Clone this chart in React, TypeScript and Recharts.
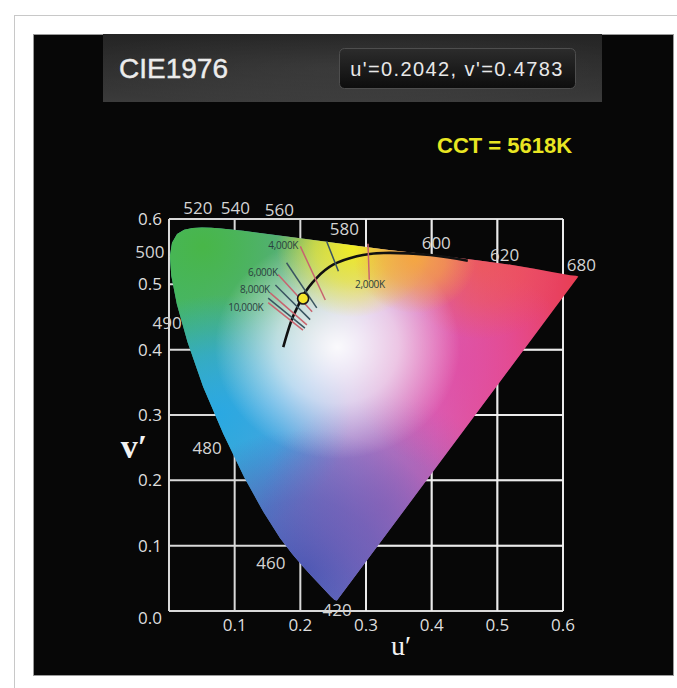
import React from "react";
import { ScatterChart, Scatter, XAxis, YAxis, ReferenceLine } from "recharts";

// spectral locus in u'v': 505nm up over the top to 700nm,
// the purple line back to 400nm, then up the blue/cyan side to 500nm
const locusNm = [505, 510, 515, 520, 525, 530, 535, 540, 550, 560, 570, 580, 590, 600, 610, 620, 630, 640, 650, 660, 680, 700, 400, 420, 430, 440, 450, 455, 460, 465, 470, 475, 480, 485, 490, 495, 500];
const locusU = [0.0014, 0.0046, 0.0123, 0.0231, 0.036, 0.0501, 0.0643, 0.0792, 0.1127, 0.1531, 0.2026, 0.2623, 0.3315, 0.4035, 0.4692, 0.5203, 0.5565, 0.583, 0.6005, 0.6109, 0.6199, 0.6234, 0.2557, 0.2522, 0.2461, 0.2347, 0.2161, 0.2033, 0.1877, 0.169, 0.1441, 0.1147, 0.0828, 0.0521, 0.0282, 0.0119, 0.0035];
const locusV = [0.5432, 0.5638, 0.577, 0.5837, 0.5861, 0.5868, 0.5865, 0.5856, 0.5821, 0.5766, 0.57, 0.562, 0.553, 0.545, 0.537, 0.53, 0.524, 0.519, 0.516, 0.514, 0.513, 0.512, 0.0159, 0.0169, 0.0226, 0.035, 0.0549, 0.0688, 0.0871, 0.1119, 0.151, 0.2044, 0.2708, 0.3427, 0.4117, 0.4698, 0.5131];

// black-body (Planckian) curve
const planckU = [0.174, 0.181, 0.189, 0.196, 0.203, 0.213, 0.225, 0.25, 0.286, 0.327, 0.398, 0.455];
const planckV = [0.404, 0.428, 0.451, 0.466, 0.481, 0.496, 0.51, 0.53, 0.543, 0.548, 0.545, 0.536];

// short isotherm strokes across the curve (start / end)
const isoU1 = [0.303, 0.24, 0.2, 0.179, 0.166, 0.162, 0.154, 0.151, 0.151];
const isoV1 = [0.562, 0.566, 0.558, 0.533, 0.515, 0.499, 0.487, 0.479, 0.472];
const isoU2 = [0.305, 0.258, 0.238, 0.225, 0.218, 0.215, 0.21, 0.207, 0.204];
const isoV2 = [0.507, 0.52, 0.476, 0.464, 0.458, 0.446, 0.438, 0.433, 0.43];

const wavelengthLabels = ["520", "540", "560", "580", "600", "620", "680", "500", "490", "480", "460", "420"];
const wavelengthU = [0.044, 0.101, 0.168, 0.267, 0.407, 0.511, 0.628, -0.029, -0.003, 0.058, 0.155, 0.256];
const wavelengthV = [0.617, 0.617, 0.614, 0.585, 0.564, 0.545, 0.53, 0.551, 0.441, 0.25, 0.075, 0.002];

const cctLabels = ["4,000K", "6,000K", "8,000K", "10,000K", "2,000K"];
const cctU = [0.174, 0.143, 0.131, 0.117, 0.306];
const cctV = [0.56, 0.519, 0.493, 0.466, 0.501];

const measuredU = 0.2042;
const measuredV = 0.4783;
const measuredCct = 5618;

const gridTicks = [0, 0.1, 0.2, 0.3, 0.4, 0.5, 0.6];
const tickLabels = ["0.0", "0.1", "0.2", "0.3", "0.4", "0.5", "0.6"];

const SANS = "'Open Sans', 'DejaVu Sans', sans-serif";
const HEAD = "'Liberation Sans', Arial, sans-serif";
const SERIF = "'Liberation Serif', 'DejaVu Serif', serif";

// soft colour washes layered inside the horseshoe (bounding-box units)
const blobs = [
  { id: "gGreen", cx: 0.08, cy: 0.05, r: 0.45, color: "#48b648", o: 1 },
  { id: "gCyan", cx: 0.12, cy: 0.5, r: 0.32, color: "#28a8e4", o: 0.95 },
  { id: "gBlue", cx: 0.33, cy: 0.92, r: 0.38, color: "#4858b4", o: 1 },
  { id: "gViolet", cx: 0.52, cy: 0.75, r: 0.3, color: "#7e5cb4", o: 0.6 },
  { id: "gMagenta", cx: 0.72, cy: 0.38, r: 0.28, color: "#e04ca6", o: 0.7 },
  { id: "gRed", cx: 0.76, cy: 0.1, r: 0.2, color: "#f05a4a", o: 0.7 },
  { id: "gWhite", cx: 0.41, cy: 0.32, r: 0.3, color: "#ffffff", o: 0.95 },
  { id: "gYellow", cx: 0.45, cy: 0.05, r: 0.19, color: "#f2ee22", o: 1 },
  { id: "gOrange", cx: 0.6, cy: 0.08, r: 0.15, color: "#f6a83e", o: 0.95 },
];

const NoDot = () => <g />;

function GamutFill(props: any) {
  const pts = props.points || [];
  if (!pts.length) return <g />;
  const d = pts.map((p: any, i: number) => `${i ? "L" : "M"}${p.x},${p.y}`).join(" ") + " Z";
  return (
    <g>
      <defs>
        <linearGradient id="gBase" x1="0" y1="0" x2="1" y2="0">
          <stop offset="0" stopColor="#3fb6a8" />
          <stop offset="0.25" stopColor="#6aa0d8" />
          <stop offset="0.45" stopColor="#b08ad0" />
          <stop offset="0.65" stopColor="#d866b8" />
          <stop offset="0.85" stopColor="#e8487a" />
          <stop offset="1" stopColor="#e83e52" />
        </linearGradient>
        {blobs.map((b) => (
          <radialGradient key={b.id} id={b.id} cx={b.cx} cy={b.cy} r={b.r}>
            <stop offset="0" stopColor={b.color} stopOpacity={b.o} />
            <stop offset="0.5" stopColor={b.color} stopOpacity={b.o * 0.65} />
            <stop offset="1" stopColor={b.color} stopOpacity={0} />
          </radialGradient>
        ))}
      </defs>
      <path d={d} fill="url(#gBase)" />
      {blobs.map((b) => (
        <path key={b.id} d={d} fill={`url(#${b.id})`} />
      ))}
    </g>
  );
}

const WaveLabel = (p: any) => (
  <text x={p.cx} y={p.cy} textAnchor="middle" dominantBaseline="central" fill="#d4d4d4" fontSize={17} fontFamily={SANS}>
    {p.payload.name}
  </text>
);

const CctLabel = (p: any) => (
  <text x={p.cx} y={p.cy} textAnchor="middle" dominantBaseline="central" fill="#2a403e" fontSize={10} letterSpacing={-0.3} fontFamily={SANS}>
    {p.payload.name}
  </text>
);

const MeasuredDot = (p: any) => (
  <circle cx={p.cx} cy={p.cy} r={5.5} fill="#f4e52a" stroke="#1a1a1a" strokeWidth={1.6} />
);

export default function App() {
  const locus = locusU.map((u, i) => ({ u, v: locusV[i], nm: locusNm[i] }));
  const planck = planckU.map((u, i) => ({ u, v: planckV[i] }));
  const waves = wavelengthLabels.map((name, i) => ({ name, u: wavelengthU[i], v: wavelengthV[i] }));
  const ccts = cctLabels.map((name, i) => ({ name, u: cctU[i], v: cctV[i] }));
  const tickLabelStyle = { fill: "#dedede", fontSize: 17, fontFamily: SANS };

  return (
    <div style={{ position: "fixed", left: 0, top: 0, width: 677, height: 688, overflow: "hidden", background: "#fff" }}>
      <svg width={677} height={688} style={{ position: "absolute", left: 0, top: 0 }}>
        <defs>
          <linearGradient id="head" x1="0" y1="0" x2="0" y2="1">
            <stop offset="0" stopColor="#252525" />
            <stop offset="0.6" stopColor="#303030" />
            <stop offset="1" stopColor="#3b3b3b" />
          </linearGradient>
          <radialGradient id="headGlow" cx="0.5" cy="0.5" r="0.6">
            <stop offset="0" stopColor="#ffffff" stopOpacity={0.06} />
            <stop offset="1" stopColor="#ffffff" stopOpacity={0} />
          </radialGradient>
          <linearGradient id="btn" x1="0" y1="0" x2="0" y2="1">
            <stop offset="0" stopColor="#2c2c2c" />
            <stop offset="1" stopColor="#0d0d0d" />
          </linearGradient>
        </defs>
        <rect x={14.5} y={15.5} width={700} height={700} fill="#fff" stroke="#c8c8c8" />
        <rect x={33.5} y={34.5} width={640} height={641} fill="#070707" stroke="#9a9a9a" />
        <rect x={103} y={34} width={499} height={68} fill="url(#head)" />
        <rect x={103} y={34} width={499} height={68} fill="url(#headGlow)" />
        <text x={119} y={78} fill="#ececec" stroke="#ececec" strokeWidth={0.4} fontSize={28} fontFamily={HEAD}>
          CIE1976
        </text>
        <rect x={339.5} y={48.5} width={236} height={40} rx={5} fill="url(#btn)" stroke="#4e4e4e" />
        <text x={457} y={76} textAnchor="middle" fill="#e8e8e8" fontSize={20} letterSpacing={1.4} fontFamily={HEAD}>
          {`u'=${measuredU.toFixed(4)}, v'=${measuredV.toFixed(4)}`}
        </text>
        <text x={437} y={153} fill="#e9e622" fontSize={22} fontWeight="bold" fontFamily={HEAD}>
          {`CCT = ${measuredCct}K`}
        </text>
        <text x={134} y={446} textAnchor="middle" dominantBaseline="central" fill="#f2f2f2" fontSize={34} fontWeight="bold" fontFamily={SERIF}>
          v′
        </text>
        <text x={401} y={645} textAnchor="middle" dominantBaseline="central" fill="#f2f2f2" fontSize={28} fontFamily={SERIF}>
          u′
        </text>
      </svg>
      <div style={{ position: "absolute", left: 0, top: 0 }}>
        <ScatterChart
          width={677}
          height={688}
          margin={{ top: 186.333, right: 48.333, bottom: 44.333, left: 103.333 }}
        >
          <XAxis type="number" dataKey="u" domain={[-0.1, 0.7]} hide />
          <YAxis type="number" dataKey="v" domain={[-0.05, 0.65]} hide />

          {gridTicks.map((t, i) => (
            <ReferenceLine
              key={"gx" + i}
              segment={[{ x: t, y: 0 }, { x: t, y: 0.6 }]}
              stroke="#d9d9d9"
              strokeWidth={2}
              label={i === 0 ? undefined : { value: tickLabels[i], position: "bottom", offset: 8, ...tickLabelStyle }}
            />
          ))}
          {gridTicks.map((t, i) => (
            <ReferenceLine
              key={"gy" + i}
              segment={[{ x: 0, y: t }, { x: 0.6, y: t }]}
              stroke="#d9d9d9"
              strokeWidth={2}
              label={{ value: tickLabels[i], position: "left", offset: 7, dy: i === 0 ? 7 : 0, ...tickLabelStyle }}
            />
          ))}

          <Scatter data={locus} shape={NoDot} line={GamutFill} isAnimationActive={false} />

          {gridTicks.filter((t) => t >= 0.3).map((t) => (
            <ReferenceLine key={"ox" + t} segment={[{ x: t, y: 0 }, { x: t, y: 0.6 }]} stroke="#ffffff" strokeOpacity={0.45} strokeWidth={2} />
          ))}
          {gridTicks.filter((t) => t > 0 && t < 0.6).map((t) => (
            <ReferenceLine key={"oy" + t} segment={[{ x: 0.28, y: t }, { x: 0.6, y: t }]} stroke="#ffffff" strokeOpacity={0.45} strokeWidth={2} />
          ))}

          <Scatter
            data={planck}
            shape={NoDot}
            line={{ stroke: "#111111", strokeWidth: 2.6 }}
            lineJointType="natural"
            isAnimationActive={false}
          />

          {isoU1.map((u, i) => (
            <Scatter
              key={"iso" + i}
              data={[{ u, v: isoV1[i] }, { u: isoU2[i], v: isoV2[i] }]}
              shape={NoDot}
              line={{ stroke: i % 2 ? "#3a5561" : "#c8646f", strokeWidth: 1.5 }}
              isAnimationActive={false}
            />
          ))}

          <Scatter data={[{ u: measuredU, v: measuredV }]} shape={MeasuredDot} isAnimationActive={false} />
          <Scatter data={waves} shape={WaveLabel} isAnimationActive={false} />
          <Scatter data={ccts} shape={CctLabel} isAnimationActive={false} />
        </ScatterChart>
      </div>
    </div>
  );
}
